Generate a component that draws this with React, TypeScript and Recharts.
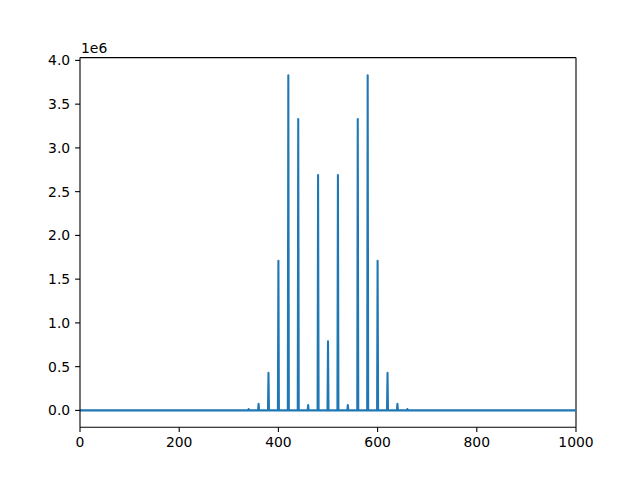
import { LineChart, Line, XAxis, YAxis, ReferenceLine } from "recharts";

// spike positions and heights
const peakX = [340, 360, 380, 400, 420, 440, 460, 480, 500, 520, 540, 560, 580, 600, 620, 640, 660];
const peakY = [
  15000, 75000, 430000, 1710000, 3830000, 3330000, 62000, 2690000, 790000,
  2690000, 62000, 3330000, 3830000, 1710000, 430000, 75000, 15000,
];
const xTicks = [0, 200, 400, 600, 800, 1000];
const yTicks = [0, 500000, 1000000, 1500000, 2000000, 2500000, 3000000, 3500000, 4000000];
const xDomain = [0, 1000];
const yDomain = [-192000, 4032000];

// baseline is zero between spikes
const data: { x: number; y: number }[] = [{ x: 0, y: 0 }];
peakX.forEach((p, i) => {
  data.push({ x: p - 1, y: 0 }, { x: p, y: peakY[i] }, { x: p + 1, y: 0 });
});
data.push({ x: 1000, y: 0 });

const FONT = "'DejaVu Sans', sans-serif";
const tickStyle = { fill: "#000", fontSize: 13.9, fontFamily: FONT };
const axisLine = { stroke: "#000", strokeWidth: 1.1 };
const tickLine = { stroke: "#000", strokeWidth: 1.1 };

export default function App() {
  return (
    <div style={{ position: "absolute", left: 0, top: 0, width: 640, height: 480, background: "#fff" }}>
      <LineChart
        width={640}
        height={480}
        data={data}
        margin={{ top: 57.6, right: 64, left: 0, bottom: 0 }}
      >
        <XAxis
          dataKey="x"
          type="number"
          domain={xDomain}
          ticks={xTicks}
          height={52.8}
          tick={tickStyle}
          tickSize={4.9}
          tickMargin={4.9}
          axisLine={axisLine}
          tickLine={tickLine}
          allowDataOverflow
        />
        <YAxis
          type="number"
          domain={yDomain}
          ticks={yTicks}
          width={80}
          tick={tickStyle}
          tickSize={4.9}
          tickMargin={4.9}
          axisLine={axisLine}
          tickLine={tickLine}
          tickFormatter={(v: number) => (v / 1e6).toFixed(1)}
          allowDataOverflow
          label={{
            content: (props: any) => {
              const vb = props.viewBox || {};
              return (
                <text
                  x={(vb.x ?? 0) + (vb.width ?? 80) + 1}
                  y={(vb.y ?? 57.6) - 5}
                  fill="#000"
                  fontSize={13.9}
                  fontFamily={FONT}
                >
                  1e6
                </text>
              );
            },
          }}
        />
        {/* top and right spines */}
        <ReferenceLine y={yDomain[1]} stroke="#000" strokeWidth={1.1} />
        <ReferenceLine x={xDomain[1]} stroke="#000" strokeWidth={1.1} />
        <Line
          dataKey="y"
          type="linear"
          stroke="#1f77b4"
          strokeWidth={2.08}
          strokeLinejoin="round"
          dot={false}
          activeDot={false}
          isAnimationActive={false}
        />
      </LineChart>
    </div>
  );
}
